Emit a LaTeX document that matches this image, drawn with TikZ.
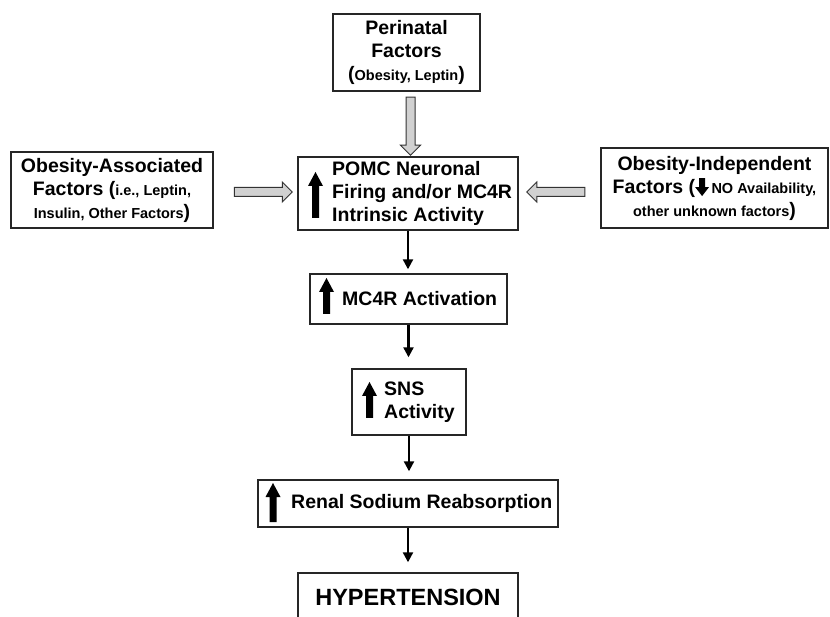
\documentclass[tikz,border=0pt]{standalone}
\usepackage{fontspec}
\setmainfont{Liberation Sans}
\usetikzlibrary{arrows.meta,shapes.arrows}
\newcommand\sm[1]{{\fontsize{14.5}{23}\selectfont #1}}
\newcommand\smalldown{\tikz[baseline=0pt,x=1pt,y=1pt]\fill[black] (-3,15) -- (-3,6) -- (-7,6) -- (0,-3) -- (7,6) -- (3,6) -- (3,15) -- cycle;}
\newcommand\bigup[3]{\fill[black] ({#1-3.5},#3) -- ({#1-3.5},{#2+14}) -- ({#1-7.5},{#2+14}) -- (#1,#2) -- ({#1+7.5},{#2+14}) -- ({#1+3.5},{#2+14}) -- ({#1+3.5},#3) -- cycle;}
\tikzset{
  box/.style={draw=black!85, line width=1.4pt, fill=white, inner sep=0pt},
  txt/.style={font=\bfseries\fontsize{19.5}{23}\selectfont, inner sep=0pt, align=left, anchor=west},
  ctxt/.style={font=\bfseries\fontsize{19.5}{23}\selectfont, align=center},
  conn/.style={line width=2.2pt, black, -{Triangle[length=10pt,width=10pt]}},
  hollow/.style={single arrow, draw=black!80, line width=1pt, fill=black!18, inner sep=4pt,
    single arrow head extend=5.5pt, single arrow tip angle=90, minimum height=58pt, anchor=center},
}
\begin{document}
\begin{tikzpicture}[x=1pt,y=-1pt]
\useasboundingbox (0,0) rectangle (830,617);
\clip (0,0) rectangle (830,617);
\fill[white] (0,0) rectangle (830,617);

% boxes
\node[box, ctxt, minimum width=147pt, minimum height=77pt] (peri) at (406.5,52.5)
  {Perinatal\\Factors\\(\sm{Obesity, Leptin})};
\node[box, ctxt, minimum width=202pt, minimum height=76pt] (left) at (112,190)
  {Obesity-Associated\\Factors (\sm{i.e., Leptin,}\\\sm{Insulin, Other Factors})};
\node[box, ctxt, minimum width=227pt, minimum height=80pt] (right) at (714.5,188)
  {Obesity-Independent\\Factors (\smalldown\sm{\,NO Availability,}\\\sm{other unknown factors})};
\node[box, minimum width=220pt, minimum height=73pt] (pomc) at (408,193.5) {};
\node[box, minimum width=197pt, minimum height=50pt] (mc4r) at (408.5,299) {};
\node[box, minimum width=114pt, minimum height=66pt] (sns) at (409,402) {};
\node[box, minimum width=300pt, minimum height=47pt] (renal) at (408,503.5) {};
\node[box, minimum width=220pt, minimum height=80pt] (hyper) at (408,613) {};

% texts
\node[txt] (pomct) at (332,193.5) {POMC Neuronal\\Firing and/or MC4R\\Intrinsic Activity};
\node[txt] (mc4rt) at (342,299) {MC4R Activation};
\node[txt] (snst) at (384,402) {SNS\\Activity};
\node[txt] (renalt) at (291,503.5) {Renal Sodium Reabsorption};
\node[font=\bfseries\fontsize{23.5}{28}\selectfont, inner sep=0pt] (hypert) at (408,597) {HYPERTENSION};

% thick up arrows
\bigup{315.5}{172}{218}
\bigup{326.5}{278}{314}
\bigup{369.5}{382}{418}
\bigup{273}{483}{522}

% hollow arrows
\node[hollow, shape border rotate=270] (ha1) at (410.5,124) {};
\node[hollow, shape border rotate=0] (ha2) at (261,192) {};
\node[hollow, shape border rotate=180] (ha3) at (558,192) {};

% connectors
\draw[conn, shorten >=4pt] (pomc.south) -- (pomc.south |- mc4r.north);
\draw[conn, shorten >=11pt] (mc4r.south) -- (mc4r.south |- sns.north);
\draw[conn, shorten >=8pt] (sns.south) -- (sns.south |- renal.north);
\draw[conn, shorten >=10pt] (renal.south) -- (renal.south |- hyper.north);
\end{tikzpicture}
\end{document}
